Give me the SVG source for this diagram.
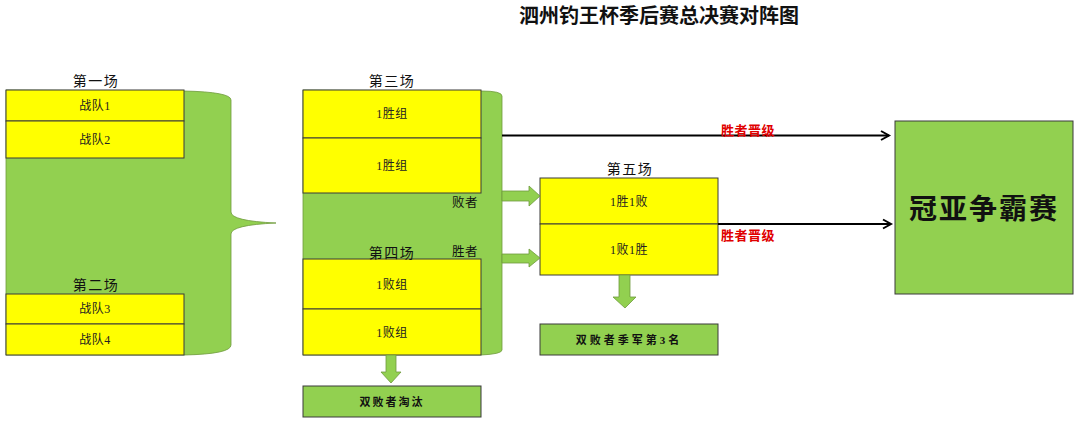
<svg xmlns="http://www.w3.org/2000/svg" width="1080" height="424" viewBox="0 0 1080 424">
<defs>
<style>
.bg{fill:#ffffff}
.green{fill:#92D050;stroke:#6f9a3c;stroke-width:0.8}
.box{fill:#FFFF00;stroke:#3a3a3a;stroke-width:1}
.gbox{fill:#92D050;stroke:#3a3a3a;stroke-width:1}
.blk{fill:#92D050;stroke:#6f9a3c;stroke-width:0.8}
.line{stroke:#000;stroke-width:2;fill:none}
.t{font-family:"Liberation Serif","Noto Sans CJK SC",serif;font-size:12px;fill:#222;text-anchor:middle;dominant-baseline:central;letter-spacing:0.5px}
.lab{font-family:"Liberation Sans","Noto Sans CJK SC",sans-serif;font-size:14px;fill:#111;text-anchor:middle;letter-spacing:1.5px}
.side{font-family:"Liberation Sans","Noto Sans CJK SC",sans-serif;font-size:12.5px;fill:#111;letter-spacing:0.5px}
.red{font-family:"Liberation Sans","Noto Sans CJK SC",sans-serif;font-size:13px;font-weight:bold;fill:#e00000;letter-spacing:0.5px}
.bt{font-family:"Liberation Serif","Noto Sans CJK SC",serif;font-size:11px;font-weight:bold;fill:#111;text-anchor:middle;dominant-baseline:central}
</style>
<marker id="arr" markerUnits="userSpaceOnUse" markerWidth="12" markerHeight="12" refX="9" refY="6" orient="auto">
<path d="M1,1.5 L9,6 L1,10.5" fill="none" stroke="#000" stroke-width="2"/>
</marker>
</defs>
<rect class="bg" x="0" y="0" width="1080" height="424"/>
<text x="659" y="23" font-family="Liberation Serif,'Noto Sans CJK SC',serif" font-size="20" font-weight="bold" fill="#111" text-anchor="middle">泗州钓王杯季后赛总决赛对阵图</text>

<g id="round12">
<path class="green" d="M6,90 L184,91 Q231,92 231,100 L231,212 Q231,221 276,223 Q231,225 231,234 L231,345 Q231,354 184,355 L6,355 Z"/>
<text class="lab" x="96" y="86">第一场</text>
<rect class="box" x="6" y="90" width="178" height="31"/>
<rect class="box" x="6" y="121" width="178" height="37"/>
<text class="t" x="95" y="106">战队1</text>
<text class="t" x="95" y="140">战队2</text>
<text class="lab" x="96" y="290">第二场</text>
<rect class="box" x="6" y="294" width="178" height="30"/>
<rect class="box" x="6" y="324" width="178" height="31"/>
<text class="t" x="95" y="309">战队3</text>
<text class="t" x="95" y="340">战队4</text>
</g>

<g id="round34">
<path class="green" d="M303,90 L481,91 Q502,91 502,96 L502,350 Q502,354 481,355 L303,355 Z"/>
<text class="lab" x="392" y="86">第三场</text>
<rect class="box" x="303" y="90" width="178" height="48"/>
<rect class="box" x="303" y="138" width="178" height="55"/>
<text class="t" x="392" y="114">1胜组</text>
<text class="t" x="392" y="166">1胜组</text>
<text class="side" x="452" y="207">败者</text>
<text class="side" x="452" y="256">胜者</text>
<rect class="box" x="303" y="259" width="178" height="50"/>
<rect class="box" x="303" y="309" width="178" height="46"/>
<text class="lab" x="392" y="258" font-size="15">第四场</text>
<text class="t" x="392" y="285">1败组</text>
<text class="t" x="392" y="333">1败组</text>
</g>

<g id="eliminated">
<rect class="gbox" x="303" y="386" width="178" height="31"/>
<text class="bt" x="392" y="402" letter-spacing="2">双败者淘汰</text>
</g>

<g id="round5">
<text class="lab" x="630" y="174">第五场</text>
<rect class="box" x="540" y="178" width="178" height="46"/>
<rect class="box" x="540" y="224" width="178" height="51"/>
<text class="t" x="629" y="202">1胜1败</text>
<text class="t" x="629" y="250">1败1胜</text>
</g>

<g id="third">
<rect class="gbox" x="540" y="324" width="178" height="31"/>
<text class="bt" x="629" y="340" letter-spacing="3">双败者季军第3名</text>
</g>

<g id="final">
<rect class="gbox" x="895" y="121" width="178" height="173"/>
<text x="984" y="209" font-family="Liberation Sans,'Noto Sans CJK SC',sans-serif" font-size="28" font-weight="bold" fill="#111" text-anchor="middle" dominant-baseline="central" letter-spacing="2">冠亚争霸赛</text>
</g>

<g id="connectors">
<polygon class="blk" points="502,191 529,191 529,186 540,196 529,206 529,201 502,201"/>
<polygon class="blk" points="502,254 529,254 529,249 540,258 529,267 529,263 502,263"/>
<polygon class="blk" points="386,355 396,355 396,372 401,372 391,383 381,372 386,372"/>
<polygon class="blk" points="619,275 630,275 630,297 636,297 625,308 613,297 619,297"/>
<line class="line" x1="502" y1="135.5" x2="889" y2="135.5" marker-end="url(#arr)"/>
<line class="line" x1="718" y1="224" x2="891" y2="224" marker-end="url(#arr)"/>
<text class="red" x="721" y="135">胜者晋级</text>
<text class="red" x="721" y="240">胜者晋级</text>
</g>
</svg>
